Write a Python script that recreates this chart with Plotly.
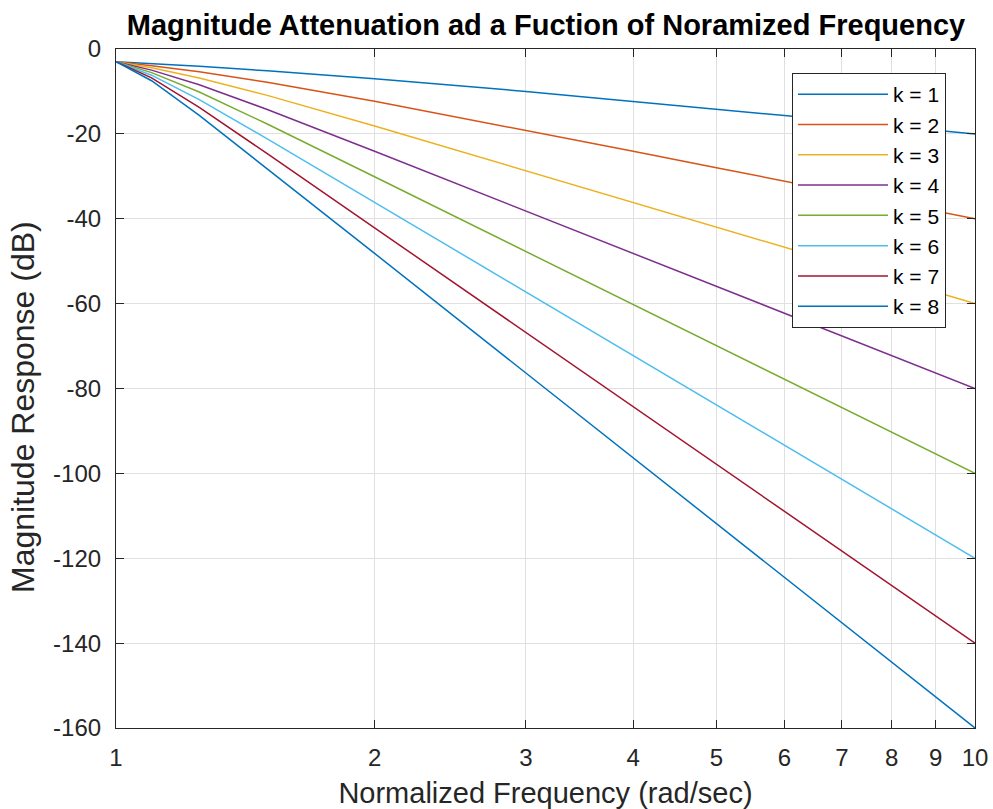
import plotly.graph_objects as go

freq = [1, 1.1, 1.25, 1.5, 2, 3, 4, 5, 6, 8, 10]
k1 = [-3.01, -3.44, -4.09, -5.12, -6.99, -10.00, -12.30, -14.15, -15.68, -18.13, -20.04]
k2 = [-3.01, -3.92, -5.37, -7.83, -12.30, -19.14, -24.10, -27.97, -31.13, -36.12, -40.00]
k3 = [-3.01, -4.43, -6.83, -10.93, -18.13, -28.63, -36.12, -41.94, -46.69, -54.19, -60.00]
k4 = [-3.01, -4.98, -8.43, -14.25, -24.10, -38.17, -48.16, -55.92, -62.25, -72.25, -80.00]
k5 = [-3.01, -5.56, -10.13, -17.68, -30.11, -47.71, -60.21, -69.90, -77.82, -90.31, -100.00]
k6 = [-3.01, -6.17, -11.92, -21.16, -36.12, -57.25, -72.25, -83.88, -93.38, -108.37, -120.00]
k7 = [-3.01, -6.81, -13.75, -24.67, -42.14, -66.80, -84.29, -97.86, -108.94, -126.43, -140.00]
k8 = [-3.01, -7.48, -15.63, -28.18, -48.16, -76.34, -96.33, -111.84, -124.50, -144.49, -160.00]
series = [k1, k2, k3, k4, k5, k6, k7, k8]
names = ["k = 1", "k = 2", "k = 3", "k = 4", "k = 5", "k = 6", "k = 7", "k = 8"]
colors = ["#0072BD", "#D95319", "#EDB120", "#7E2F8E", "#77AC30", "#4DBEEE", "#A2142F", "#0072BD"]
xticks = [1, 2, 3, 4, 5, 6, 7, 8, 9, 10]
yticks = [0, -20, -40, -60, -80, -100, -120, -140, -160]
ylabels = ["0", "-20", "-40", "-60", "-80", "-100", "-120", "-140", "-160"]
xtitle = "Normalized Frequency (rad/sec)"
ytitle = "Magnitude Response (dB)"
title = "Magnitude Attenuation ad a Fuction of Noramized Frequency"

fig = go.Figure()
for s, n, c in zip(series, names, colors):
    fig.add_trace(go.Scatter(x=freq, y=s, mode="lines", name=n,
                             line=dict(color=c, width=1.5)))

W, H = 993, 809
L, R, T, B = 116, 975, 49, 728
font = "Liberation Sans, Arial, Helvetica, sans-serif"
fig.update_layout(
    width=W, height=H,
    margin=dict(l=L, r=W - R, t=T, b=H - B),
    paper_bgcolor="white", plot_bgcolor="white",
    font=dict(family=font, size=24, color="#262626"),
    title=dict(text="<b>" + title + "</b>",
               x=546 / W, xanchor="center", y=1 - 25 / H, yanchor="middle",
               font=dict(size=29, color="black")),
    showlegend=True,
    legend=dict(x=(792 - L) / (R - L), y=1 - (73 - T) / (B - T), xanchor="left", yanchor="top",
                bgcolor="white", bordercolor="#262626", borderwidth=1,
                font=dict(size=21, color="black"), tracegroupgap=0,
                itemwidth=90),
    annotations=[dict(text=ytitle, textangle=-90, xref="paper", yref="paper",
                      x=(23 - L) / (R - L), y=1 - (407 - T) / (B - T),
                      xanchor="center", yanchor="middle", showarrow=False,
                      font=dict(size=32, color="#262626"))],
)
fig.update_xaxes(type="log", range=[0, 1], tickvals=xticks,
                 ticktext=[str(v) for v in xticks], automargin=False,
                 showgrid=True, gridcolor="#e0e0e0", gridwidth=1,
                 showline=True, linecolor="#262626", linewidth=1.2, mirror="ticks",
                 ticks="inside", ticklen=8, tickcolor="#262626",
                 ticklabelstandoff=8,
                 zeroline=False,
                 title=dict(text=xtitle, font=dict(size=29), standoff=14))
fig.update_yaxes(range=[-160, 0], tickvals=yticks, ticktext=ylabels, automargin=False,
                 showgrid=True, gridcolor="#e0e0e0", gridwidth=1,
                 showline=True, linecolor="#262626", linewidth=1.2, mirror="ticks",
                 ticks="inside", ticklen=8, tickcolor="#262626",
                 ticklabelstandoff=9,
                 zeroline=False)

fig.write_html("out.html", config={"displayModeBar": False},
               post_script="document.body.style.margin='0px';")
